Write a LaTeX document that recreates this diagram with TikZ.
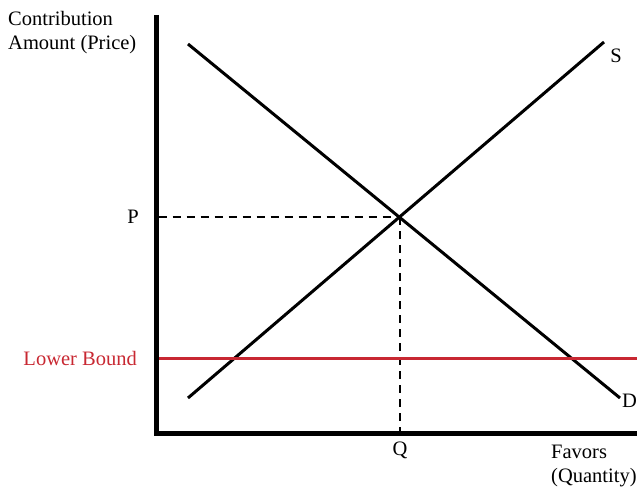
\documentclass[tikz,border=0pt]{standalone}
\usepackage{fontspec}
\setmainfont{Liberation Serif}
\usetikzlibrary{positioning}
\definecolor{boundred}{RGB}{200,40,50}

\begin{document}
\begin{tikzpicture}[x=1pt, y=-1pt, font=\fontsize{20.5}{24}\selectfont,
    axis/.style={line width=5pt, line join=miter},
    curve/.style={line width=3pt},
    guide/.style={line width=1.3pt, dash pattern=on 8pt off 6pt},
    lbl/.style={inner sep=0pt}]
    \useasboundingbox (0,0) rectangle (637,487);

    % axes
    \coordinate (ytop) at (156,15);
    \coordinate (origin) at (156,433);
    \coordinate (xend) at (640,433);
    \draw[axis] (ytop) -- (origin) -- (xend);

    % supply and demand
    \coordinate (dstart) at (188,44);
    \coordinate (dend) at (620,398);
    \coordinate (sstart) at (188,398);
    \coordinate (send) at (604,42);
    \coordinate (eq) at (400,217);
    \draw[curve] (dstart) -- (dend);
    \draw[curve] (sstart) -- (send);
    \node[lbl] (slabel) at (616,56) {S};
    \node[lbl, anchor=east] (dlabel) at (637,401) {D};

    % equilibrium guides
    \node[lbl] (plabel) at (133,217) {P};
    \node[lbl] (qlabel) at (400,450) {Q};
    \coordinate (pfoot) at (158.5,217);
    \coordinate (qfoot) at (400,430.5);
    \draw[guide] (pfoot) -- (eq);
    \draw[guide] (eq) -- (qfoot);

    % lower bound
    \coordinate (lbstart) at (158.5,358);
    \coordinate (lbend) at (637,358);
    \draw[boundred, line width=3pt] (lbstart) -- (lbend);
    \node[lbl, boundred, anchor=east] (lblabel) at (137,358) {Lower Bound};

    % axis titles
    \node[lbl, anchor=west, align=left] (ytitle) at (8,33) {Contribution\\Amount (Price)};
    \node[lbl, anchor=west, align=left] (xtitle) at (551,466) {Favors\\(Quantity)};
\end{tikzpicture}
\end{document}
